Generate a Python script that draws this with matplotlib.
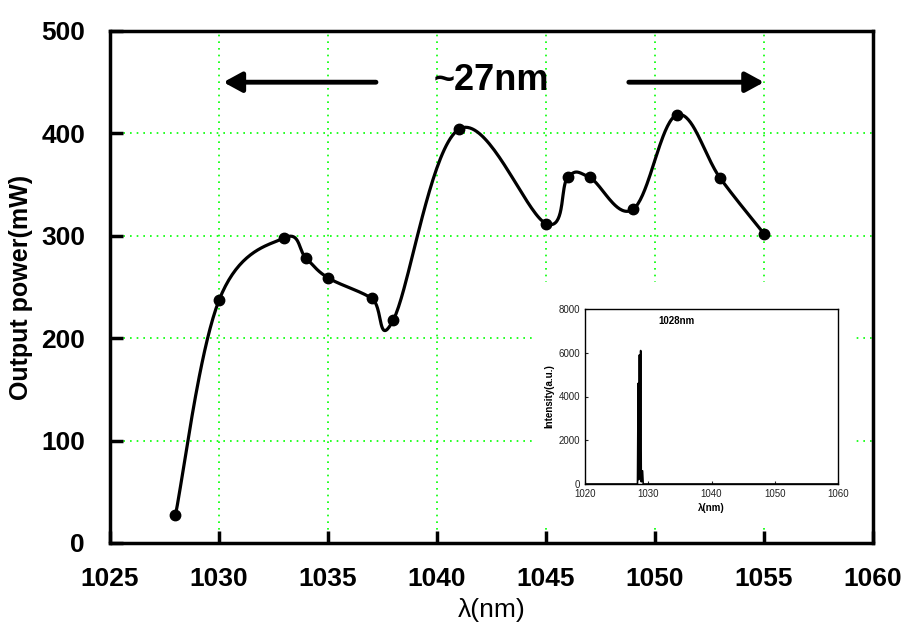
import numpy as np
import matplotlib.pyplot as plt

plt.rcParams['font.family'] = ['Liberation Sans', 'DejaVu Sans']

# main data: output power vs wavelength
wl = [1028, 1030, 1033, 1034, 1035, 1037, 1038, 1041, 1045, 1046, 1047, 1049, 1051, 1053, 1055]
power = [27, 237, 298, 278, 259, 239, 218, 404, 312, 357, 357, 326, 418, 356, 302]

# inset spectrum (1028 nm line)
sp_wl = [1020, 1028.3, 1028.4, 1028.5, 1028.6, 1028.7, 1028.8, 1028.9, 1029.0, 1029.1, 1029.2, 1060]
sp_int = [0, 0, 4600, 200, 5900, 300, 6100, 100, 600, 600, 0, 0]

xticks = [1025, 1030, 1035, 1040, 1045, 1050, 1055, 1060]
yticks = [0, 100, 200, 300, 400, 500]


def smooth(x, y, k=0.5, n=40):
    # cardinal spline, like the smoothed line of a spreadsheet chart
    p = np.column_stack([x, y]).astype(float)
    m = np.zeros_like(p)
    m[1:-1] = (p[2:] - p[:-2]) * k
    m[0] = (p[1] - p[0]) * k
    m[-1] = (p[-1] - p[-2]) * k
    t = np.linspace(0, 1, n)[:, None]
    h00 = 2*t**3 - 3*t**2 + 1
    h10 = t**3 - 2*t**2 + t
    h01 = -2*t**3 + 3*t**2
    h11 = t**3 - t**2
    out = []
    for i in range(len(p) - 1):
        seg = h00*p[i] + h10*m[i] + h01*p[i+1] + h11*m[i+1]
        out.append(seg if i == 0 else seg[1:])
    out = np.vstack(out)
    return out[:, 0], out[:, 1]


fig = plt.figure(figsize=(9.1, 6.28), dpi=100)
ax = fig.add_axes([110/910, 1-543/628, (873-110)/910, (543-31)/628])

sx, sy = smooth(wl, power, k=0.55)
ax.plot(sx, sy, color='black', lw=2.3, zorder=3)
ax.plot(wl, power, 'o', color='black', ms=7.5, zorder=4)

ax.set_xlim(1025, 1060)
ax.set_ylim(0, 500)
ax.set_xticks(xticks)
ax.set_yticks(yticks)
ax.grid(True, color='#00ff00', linestyle=(0, (1, 3)), lw=1.2)
for s in ax.spines.values():
    s.set_linewidth(2.5)
ax.tick_params(direction='in', length=9, width=2.5, labelsize=19)
for lab in ax.get_yticklabels() + ax.get_xticklabels():
    lab.set_fontweight('bold')
ax.tick_params(axis='x', pad=17)
ax.tick_params(axis='y', pad=18)
ax.set_ylabel('Output power(mW)', fontsize=18, fontweight='bold', labelpad=6)
ax.set_xlabel('λ(nm)', fontsize=19, labelpad=5)

ax.text(1042.5, 452, '~27nm', fontsize=26, fontweight='bold', ha='center', va='center')
arr = dict(arrowstyle='-|>,head_length=0.55,head_width=0.3', lw=3.5, color='black',
           shrinkA=0, shrinkB=0, mutation_scale=20)
ax.annotate('', xy=(1030.2, 450), xytext=(1037.2, 450), arrowprops=arr)
ax.annotate('', xy=(1055.0, 450), xytext=(1048.8, 450), arrowprops=arr)

# white box behind the inset
bg = fig.add_axes([535/910, 1-528/628, (852-535)/910, (528-282)/628])
bg.set_facecolor('white')
bg.set_xticks([])
bg.set_yticks([])
for s in bg.spines.values():
    s.set_visible(False)

ins = fig.add_axes([585/910, 1-484/628, (838-585)/910, (484-309)/628])
ins.plot(sp_wl, sp_int, color='black', lw=1.2)
ins.set_xlim(1020, 1060)
ins.set_ylim(0, 8000)
ins.set_xticks([1020, 1030, 1040, 1050, 1060])
ins.set_yticks([0, 2000, 4000, 6000, 8000])
ins.tick_params(direction='in', length=2, labelsize=7, colors='#222222')
for s in ins.spines.values():
    s.set_linewidth(1.0)
ins.set_ylabel('Intensity(a.u.)', fontsize=7, fontweight='bold', labelpad=3)
ins.set_xlabel('λ(nm)', fontsize=7, fontweight='bold', labelpad=3)
ins.text(1034.5, 7300, '1028nm', fontsize=7, fontweight='bold', ha='center')

fig.savefig('out.png', dpi=100)
